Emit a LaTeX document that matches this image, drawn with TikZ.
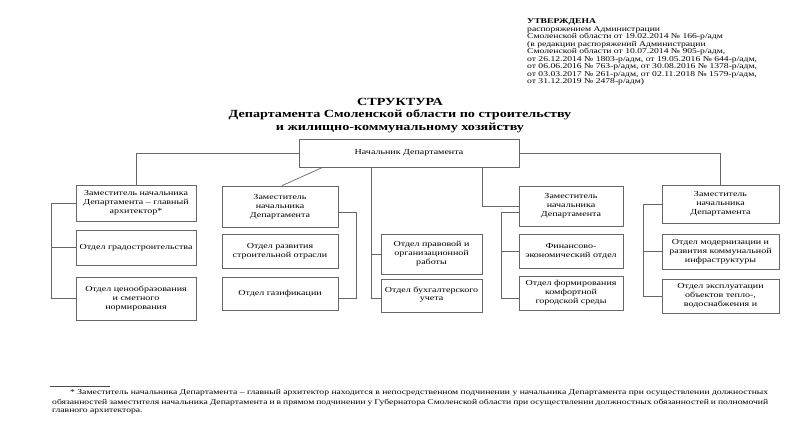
\documentclass[tikz,border=0pt]{standalone}
\usepackage{fontspec}
\setmainfont{Liberation Serif}[FakeStretch=1.3]
\tikzset{
  box/.style={draw=black!60, line width=0.7pt, align=center, inner sep=0pt, text=black,
    font=\fontsize{7.7}{9}\selectfont},
  conn/.style={draw=black!60, line width=0.7pt},
  small/.style={inner sep=0pt, text=black, font=\fontsize{7.4}{7.55}\selectfont},
  foot/.style={inner sep=0pt, text=black, anchor=west, font=\fontsize{7.4}{9}\selectfont}
}
\begin{document}
\begin{tikzpicture}[x=1pt,y=-1pt]
\useasboundingbox[fill=white] (0,0) rectangle (800,434);
% top-right approval note
\node[small, anchor=north west, align=left] (appr) at (527,18.5) {\textbf{УТВЕРЖДЕНА}\\
распоряжением Администрации\\
Смоленской области от 19.02.2014 № 166-р/адм\\
(в редакции распоряжений Администрации\\
Смоленской области от 10.07.2014 № 905-р/адм,\\
от 26.12.2014 № 1803-р/адм, от 19.05.2016 № 644-р/адм,\\
от 06.06.2016 № 763-р/адм, от 30.08.2016 № 1378-р/адм,\\
от 03.03.2017 № 261-р/адм, от 02.11.2018 № 1579-р/адм,\\
от 31.12.2019 № 2478-р/адм)};
% title
\node[inner sep=0pt, align=center, font=\fontsize{10.9}{12.5}\selectfont\bfseries] (title) at (400,115.5)
 {СТРУКТУРА\\Департамента Смоленской области по строительству\\и жилищно-коммунальному хозяйству};
% head
\node[box, minimum width=220, minimum height=28] (head) at (409,153) {Начальник Департамента};
% column 1
\node[box, minimum width=120, minimum height=36] (c1a) at (136,203) {Заместитель начальника\\Департамента – главный\\архитектор*};
\node[box, minimum width=120, minimum height=35] (c1b) at (136,247.5) {Отдел градостроительства};
\node[box, minimum width=120, minimum height=43] (c1c) at (136,298.5) {Отдел ценообразования\\и сметного\\нормирования};
% column 2
\node[box, minimum width=116, minimum height=41] (c2a) at (280,206.5) {Заместитель\\начальника\\Департамента};
\node[box, minimum width=116, minimum height=34] (c2b) at (280,251) {Отдел развития\\строительной отрасли};
\node[box, minimum width=116, minimum height=33] (c2c) at (280,293.5) {Отдел газификации};
% column 3
\node[box, minimum width=101, minimum height=40] (c3a) at (431.5,254) {Отдел правовой и\\организационной\\работы};
\node[box, minimum width=101, minimum height=33] (c3b) at (431.5,295.5) {\raisebox{3pt}{\shortstack{Отдел бухгалтерского\\учета}}};
% column 4
\node[box, minimum width=104, minimum height=40] (c4a) at (571,206) {Заместитель\\начальника\\Департамента};
\node[box, minimum width=104, minimum height=34] (c4b) at (571,251) {Финансово-\\экономический отдел};
\node[box, minimum width=104, minimum height=34] (c4c) at (571,293) {Отдел формирования\\комфортной\\городской  среды};
% column 5
\node[box, minimum width=117, minimum height=38] (c5a) at (720.5,204) {Заместитель\\начальника\\Департамента};
\node[box, minimum width=117, minimum height=35] (c5b) at (720.5,251.5) {Отдел модернизации и\\развития коммунальной\\инфраструктуры};
\node[box, minimum width=117, minimum height=34] (c5c) at (720.5,296) {Отдел эксплуатации\\объектов тепло-,\\водоснабжения и};
% connectors
\draw[conn] (head.west) -| (c1a.north);
\draw[conn] (head.east) -| (c5a.north);
\draw[conn] ([xshift=24pt]head.south west) -- ([xshift=2pt]c2a.north);
\draw[conn] ([xshift=73pt]head.south west) |- ([yshift=-2.5pt]c3b.west);
\draw[conn] (c3a.west) -- ++(-9,0);
\draw[conn] ([xshift=184pt]head.south west) |- (c4a.west);
\draw[conn] ([yshift=-6pt]c4a.west) -- ++(-17,0) |- ([yshift=-5pt]c4c.west);
\draw[conn] (c4b.west) -- ++(-17,0);
\draw[conn] (c1a.west) -- ++(-24,0) |- (c1c.west);
\draw[conn] (c1b.west) -- ++(-24,0);
\draw[conn] ([yshift=-5.5pt]c2a.east) -- ++(18,0) |- ([yshift=-4.5pt]c2c.east);
\draw[conn] (c5a.west) -- ++(-18,0) |- (c5c.west);
\draw[conn] (c5b.west) -- ++(-18,0);
% footnote
\draw[black!70, line width=0.5pt] (50,386) -- (110,386);
\node[foot] (f1) at (70,393) {\makebox[698pt][s]{* Заместитель начальника Департамента – главный архитектор находится в непосредственном подчинении  у начальника Департамента при осуществлении должностных}};
\node[foot] (f2) at (52,403) {\makebox[716pt][s]{обязанностей заместителя начальника Департамента и в прямом подчинении у Губернатора Смоленской области при осуществлении должностных обязанностей и полномочий}};
\node[foot] (f3) at (52,411.5) {главного архитектора.};
\end{tikzpicture}
\end{document}
